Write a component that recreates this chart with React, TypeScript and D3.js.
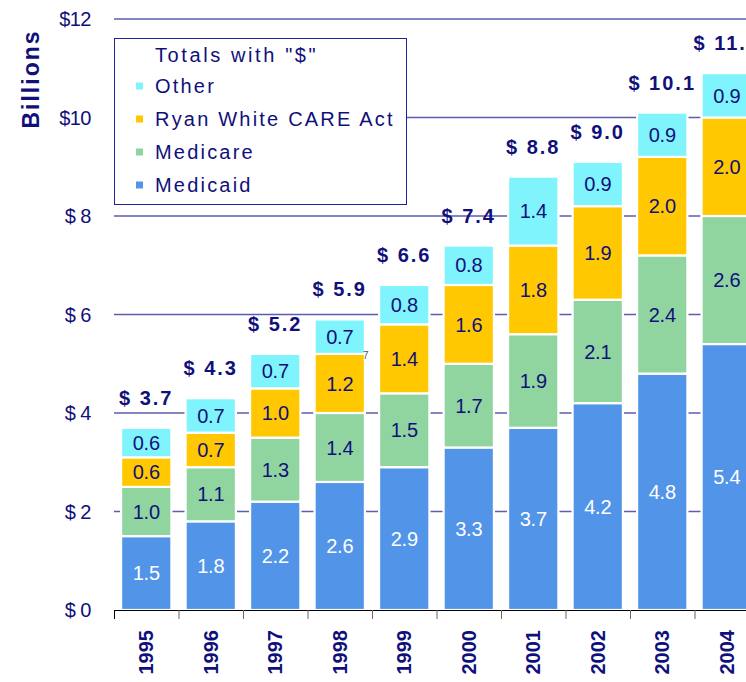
import * as d3 from 'd3';

const YEARS = ['1995', '1996', '1997', '1998', '1999', '2000', '2001', '2002', '2003', '2004'];
const MEDICAID = [1.5, 1.8, 2.2, 2.6, 2.9, 3.3, 3.7, 4.2, 4.8, 5.4];
const MEDICARE = [1.0, 1.1, 1.3, 1.4, 1.5, 1.7, 1.9, 2.1, 2.4, 2.6];
const RYAN_WHITE = [0.6, 0.7, 1.0, 1.2, 1.4, 1.6, 1.8, 1.9, 2.0, 2.0];
const OTHER = [0.6, 0.7, 0.7, 0.7, 0.8, 0.8, 1.4, 0.9, 0.9, 0.9];
const TOTAL_LABELS = ['$ 3.7', '$ 4.3', '$ 5.2', '$ 5.9', '$ 6.6', '$ 7.4', '$ 8.8', '$ 9.0', '$ 10.1', '$ 11.0'];
const Y_TICKS = [0, 2, 4, 6, 8, 10, 12];

const SERIES = [
  { key: 'medicaid', name: 'Medicaid', color: '#5294e8', text: '#ffffff', values: MEDICAID },
  { key: 'medicare', name: 'Medicare', color: '#90d4a0', text: '#10107a', values: MEDICARE },
  { key: 'ryan', name: 'Ryan White CARE Act', color: '#ffc800', text: '#10107a', values: RYAN_WHITE },
  { key: 'other', name: 'Other', color: '#80f4fc', text: '#10107a', values: OTHER },
];

const W = 746;
const H = 682;
const NAVY = '#10107a';
const FONT = 'Liberation Sans, Arial, sans-serif';

export default function App() {
  const rows = YEARS.map((year, i) => {
    const r: Record<string, number | string> = { year };
    SERIES.forEach((s) => { r[s.key] = s.values[i]; });
    return r;
  });
  const stacked = d3.stack<Record<string, number | string>>()
    .keys(SERIES.map((s) => s.key))
    .value((d, k) => d[k] as number)(rows);

  const x = d3.scaleBand<string>().domain(YEARS).range([114, 114 + 64.5 * 10])
    .paddingInner(0.22).paddingOuter(0.11);
  const y = d3.scaleLinear().domain([0, 12]).range([610, 19]);
  const step = x.step();
  const x0 = 114;

  const legendItems = [...SERIES].reverse();

  return (
    <svg width={W} height={H} style={{ position: 'absolute', left: 0, top: 0, background: '#fff' }} fontFamily={FONT}>
      {/* gridlines behind bars */}
      {Y_TICKS.filter((t) => t > 0).map((t) => (
        <line key={t} x1={x0} x2={W} y1={y(t)} y2={y(t)} stroke="#5c5cb0" strokeWidth={1.6} />
      ))}
      {Y_TICKS.map((t) => (
        <text key={t} x={91} y={y(t)} dy="0.35em" textAnchor="end" fontSize={20} fill={NAVY} letterSpacing={-0.5}>
          {`$${t < 10 ? ' ' : ''}${t}`}
        </text>
      ))}
      <text transform="translate(31,79) rotate(-90)" textAnchor="middle" dy="0.35em"
        fontSize={23} fontWeight="bold" fill={NAVY} letterSpacing={2}>Billions</text>

      {stacked.map((layer, li) => (
        <g key={layer.key}>
          {layer.map((d, i) => {
            const s = SERIES[li];
            const bx = x(YEARS[i]) ?? 0;
            const top = y(d[1]);
            const h = y(d[0]) - y(d[1]);
            return (
              <g key={YEARS[i]}>
                <rect x={bx} y={top} width={x.bandwidth()} height={h} fill={s.color} stroke="#fff" strokeWidth={2.2} />
                <text x={bx + x.bandwidth() / 2} y={top + h / 2} dy="0.36em" textAnchor="middle"
                  fontSize={20} fill={s.text} letterSpacing={-0.3}>{s.values[i].toFixed(1)}</text>
              </g>
            );
          })}
        </g>
      ))}

      {stacked[stacked.length - 1].map((d, i) => (
        <text key={YEARS[i]} x={(x(YEARS[i]) ?? 0) + x.bandwidth() / 2} y={y(d[1]) - 30} dy="0.35em"
          textAnchor="middle" fontSize={20} fontWeight="bold" fill={NAVY} letterSpacing={2}>
          {TOTAL_LABELS[i]}
        </text>
      ))}
      <text x={363} y={359} fontSize={10} fill="#555">7</text>

      {/* x axis */}
      <line x1={x0} x2={W} y1={610.5} y2={610.5} stroke="#000" strokeWidth={1.2} />
      {YEARS.map((yr, i) => (
        <line key={yr} x1={x0 + step * i + 0.5} x2={x0 + step * i + 0.5} y1={610} y2={619}
          stroke={i === 0 ? '#000' : '#666'} strokeWidth={1} />
      ))}
      {YEARS.map((yr) => (
        <text key={yr} transform={`translate(${(x(yr) ?? 0) + x.bandwidth() / 2},630) rotate(-90)`}
          textAnchor="end" dy="0.35em" fontSize={20} fontWeight="bold" fill={NAVY}>{yr}</text>
      ))}

      {/* legend */}
      <rect x={114.5} y={38.5} width={292} height={166} fill="#fff" stroke="#20209a" strokeWidth={1} />
      <text x={155} y={55} dy="0.35em" fontSize={20} fill={NAVY} letterSpacing={2.6}>Totals with "$"</text>
      {legendItems.map((s, i) => (
        <g key={s.key} transform={`translate(0,${86 + i * 33})`}>
          <rect x={136} y={-3.5} width={7} height={7} fill={s.color} />
          <text x={155} y={0} dy="0.35em" fontSize={20} fill={NAVY} letterSpacing={2.2}>{s.name}</text>
        </g>
      ))}
    </svg>
  );
}
